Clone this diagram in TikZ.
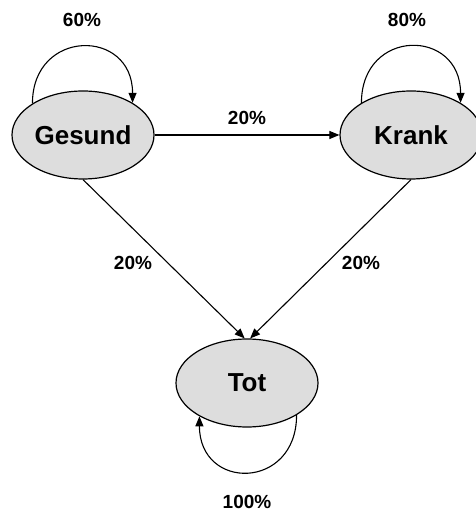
\documentclass[tikz,border=0pt]{standalone}
\usepackage{fontspec}
\setmainfont{Liberation Sans}
\usepackage{tikz}
\usetikzlibrary{arrows.meta, shapes.geometric}
\definecolor{zustandgrau}{RGB}{221,221,221}
\tikzset{
  zustand/.style={ellipse, draw, line width=1.2pt, fill=zustandgrau,
    minimum width=142pt, minimum height=88pt, inner sep=0pt,
    font=\fontsize{26}{30}\selectfont\bfseries},
  prozent/.style={font=\fontsize{19}{22}\selectfont\bfseries},
  pfeil/.style={line width=1.1pt, -{Triangle[length=10pt,width=8pt]}}
}

\begin{document}
\begin{tikzpicture}[x=1pt, y=1pt]
    \useasboundingbox (0,0) rectangle (475,513);

    % Zustaende
    \node[zustand] (gesund) at (83,378) {Gesund};
    \node[zustand] (krank) at (411,378) {Krank};
    \node[zustand] (tot) at (247,130) {Tot};

    % Uebergaenge
    \draw[pfeil] (gesund.east) -- (krank.west);
    \draw[pfeil] (gesund.south) -- (tot.93);
    \draw[pfeil] (krank.south) -- (tot.86);

    % Schleifen
    \draw[pfeil] (gesund.148) .. controls +(0,75) and +(0,75) .. (gesund.33);
    \draw[pfeil] (krank.147) .. controls +(0,75) and +(0,75) .. (krank.33);
    \draw[pfeil] (tot.-33) .. controls +(0,-75) and +(0,-75) .. (tot.-145);

    % Wahrscheinlichkeiten
    \node[prozent] (pgg) at (82,493) {60\%};
    \node[prozent] (pkk) at (407,493) {80\%};
    \node[prozent] (pgk) at (247,395) {20\%};
    \node[prozent] (pgt) at (133,250) {20\%};
    \node[prozent] (pkt) at (361,250) {20\%};
    \node[prozent] (ptt) at (247,11) {100\%};
\end{tikzpicture}
\end{document}
